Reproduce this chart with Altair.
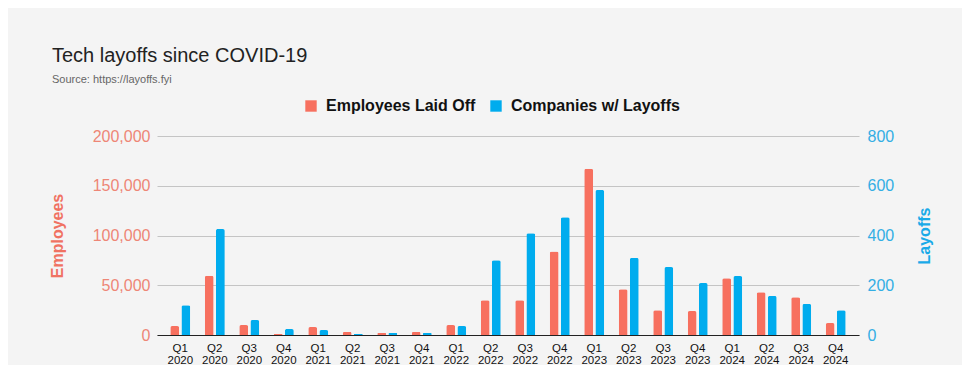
import altair as alt
import pandas as pd

quarters = ["Q1 2020", "Q2 2020", "Q3 2020", "Q4 2020",
            "Q1 2021", "Q2 2021", "Q3 2021", "Q4 2021",
            "Q1 2022", "Q2 2022", "Q3 2022", "Q4 2022",
            "Q1 2023", "Q2 2023", "Q3 2023", "Q4 2023",
            "Q1 2024", "Q2 2024", "Q3 2024", "Q4 2024"]
employees = [9000, 59600, 10000, 1000,
             8000, 3000, 2000, 3000,
             10000, 35000, 35000, 84000,
             167000, 46000, 25000, 24000,
             57000, 43000, 38000, 12000]
companies = [120, 426, 60, 24,
             20, 4, 8, 8,
             36, 301, 409, 473,
             583, 310, 273, 209,
             237, 157, 125, 100]

series = ["Employees Laid Off", "Companies w/ Layoffs"]
RED = "#F7705F"
BLUE = "#00ACEE"

rows = []
for q, e, c in zip(quarters, employees, companies):
    rows.append({"quarter": q, "series": series[0], "value": e})
    rows.append({"quarter": q, "series": series[1], "value": c})
df = pd.DataFrame(rows)

FONT = "Liberation Sans"

base = alt.Chart(df).encode(
    x=alt.X("quarter:N", sort=quarters,
            scale=alt.Scale(paddingInner=0.42, paddingOuter=0.385),
            axis=alt.Axis(title=None, labelAngle=0, ticks=False,
                          labelExpr="split(datum.label, ' ')",
                          labelFont=FONT, labelFontSize=11.5, labelColor="#111",
                          labelLineHeight=12, labelPadding=7,
                          domainColor="#222", grid=False)),
    xOffset=alt.XOffset("series:N", sort=series,
                        scale=alt.Scale(domain=series, paddingInner=0.2)),
    color=alt.Color("series:N",
                    scale=alt.Scale(domain=series, range=[RED, BLUE]),
                    legend=alt.Legend(title=None, orient="none",
                                      legendX=146, legendY=-38,
                                      direction="horizontal",
                                      symbolType="square", symbolSize=130,
                                      symbolStrokeWidth=0,
                                      labelFont=FONT, labelFontSize=16,
                                      labelFontWeight="bold", labelColor="#111",
                                      labelLimit=400,
                                      columnPadding=12, labelOffset=7)),
)

bars_emp = base.transform_filter(
    alt.datum.series == series[0]
).mark_bar(cornerRadiusTopLeft=2, cornerRadiusTopRight=2).encode(
    y=alt.Y("value:Q",
            scale=alt.Scale(domain=[0, 200000], nice=False),
            axis=alt.Axis(title="Employees", values=[0, 50000, 100000, 150000, 200000],
                          format=",d", ticks=False, domain=False,
                          labelFont=FONT, labelFontSize=16, labelColor="#EE8676",
                          labelPadding=7,
                          titleFont=FONT, titleFontSize=16, titleFontWeight="bold",
                          titleColor="#F07262", titlePadding=27,
                          grid=True, gridColor="#C4C4C4"))
)

bars_co = base.transform_filter(
    alt.datum.series == series[1]
).mark_bar(cornerRadiusTopLeft=2, cornerRadiusTopRight=2).encode(
    y=alt.Y("value:Q",
            scale=alt.Scale(domain=[0, 800], nice=False),
            axis=alt.Axis(title="Layoffs", orient="right",
                          values=[0, 200, 400, 600, 800],
                          ticks=False, domain=False, grid=False,
                          labelFont=FONT, labelFontSize=16, labelColor="#33AEE4",
                          labelPadding=8,
                          titleFont=FONT, titleFontSize=16, titleFontWeight="bold",
                          titleColor="#1AAAE8", titlePadding=39, titleAngle=270))
)

chart = alt.layer(bars_emp, bars_co).resolve_scale(y="independent").properties(
    width=702, height=199,
    autosize=alt.AutoSizeParams(type="none"),
    padding={"left": 149, "top": 128, "right": 103, "bottom": 30},
    background="#F4F4F4",
    title=alt.TitleParams(
        text="Tech layoffs since COVID-19",
        subtitle="Source: https://layoffs.fyi",
        anchor="start", frame="group", dx=-105, dy=17,
        font=FONT, fontSize=20, fontWeight="normal", color="#222",
        subtitleFont=FONT, subtitleFontSize=11, subtitleColor="#666",
        subtitlePadding=8, offset=30),
).configure_view(stroke=None)

chart.save("out.html", embed_options={"renderer": "svg", "actions": False})
